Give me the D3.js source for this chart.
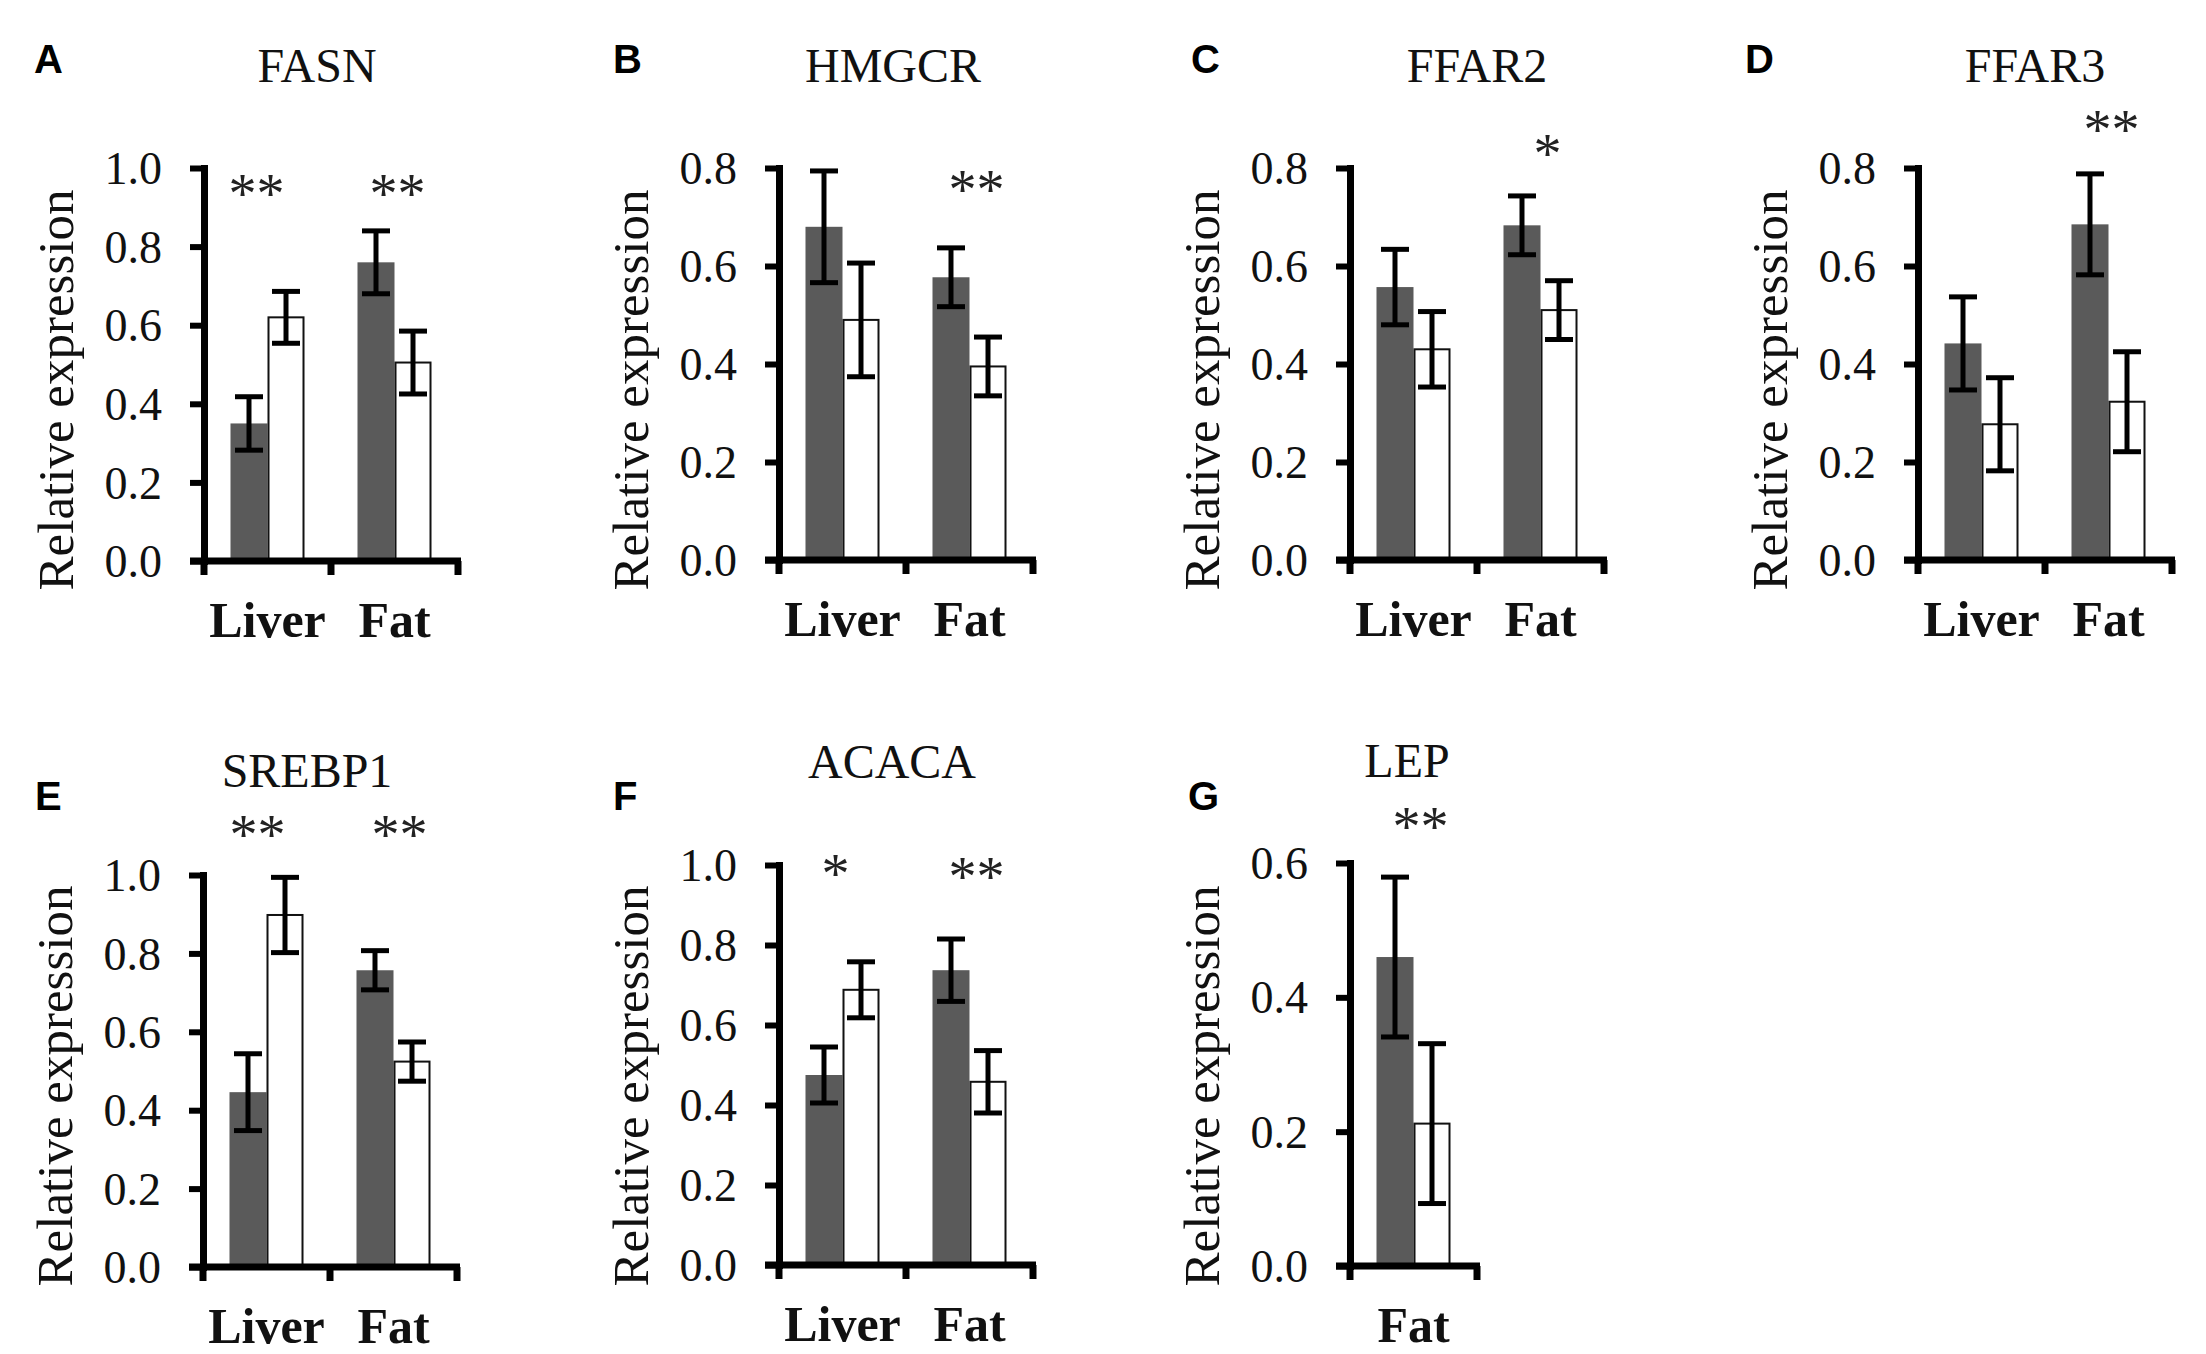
<!DOCTYPE html>
<html>
<head>
<meta charset="utf-8">
<script src="https://cdn.jsdelivr.net/npm/d3@7/dist/d3.min.js"></script>
<style>
  html, body { margin: 0; padding: 0; background: #ffffff; }
  svg { display: block; }
</style>
</head>
<body>
<svg id="chart" width="2206" height="1354"></svg>
<script>
// ---------------- DATA ----------------
const panelLetters = ["A", "B", "C", "D", "E", "F", "G"];
const genes = ["FASN", "HMGCR", "FFAR2", "FFAR3", "SREBP1", "ACACA", "LEP"];
const tissues = [
  ["Liver", "Fat"], ["Liver", "Fat"], ["Liver", "Fat"], ["Liver", "Fat"],
  ["Liver", "Fat"], ["Liver", "Fat"], ["Fat"]
];
const groups = ["dark", "white"];
// mean values per panel, per tissue: [dark, white]
const means = [
  [[0.35, 0.62], [0.76, 0.505]],
  [[0.68, 0.49], [0.577, 0.395]],
  [[0.557, 0.43], [0.683, 0.51]],
  [[0.442, 0.277], [0.685, 0.323]],
  [[0.446, 0.898], [0.757, 0.524]],
  [[0.475, 0.688], [0.737, 0.458]],
  [[0.46, 0.212]]
];
// error per panel, per tissue: [dark, white]
const errors = [
  [[0.068, 0.066], [0.08, 0.08]],
  [[0.114, 0.116], [0.06, 0.06]],
  [[0.077, 0.077], [0.06, 0.06]],
  [[0.095, 0.095], [0.103, 0.102]],
  [[0.098, 0.096], [0.05, 0.05]],
  [[0.07, 0.07], [0.078, 0.078]],
  [[0.119, 0.119]]
];
// y-axis maximum and tick labels
const yMaxes = [1.0, 0.8, 0.8, 0.8, 1.0, 1.0, 0.6];
const tickSets = [
  [0, 0.2, 0.4, 0.6, 0.8, 1.0],
  [0, 0.2, 0.4, 0.6, 0.8],
  [0, 0.2, 0.4, 0.6, 0.8],
  [0, 0.2, 0.4, 0.6, 0.8],
  [0, 0.2, 0.4, 0.6, 0.8, 1.0],
  [0, 0.2, 0.4, 0.6, 0.8, 1.0],
  [0, 0.2, 0.4, 0.6]
];
// significance marks per tissue and the data-level at which they sit
const sigMarks = [
  ["**", "**"], ["", "**"], ["", "*"], ["", "**"],
  ["**", "**"], ["*", "**"], ["**"]
];
const sigLevels = [
  [0.952, 0.952], [0, 0.769], [0, 0.843], [0, 0.892],
  [1.12, 1.12], [0.995, 0.9875], [0.664]
];
const yLabel = "Relative expression";

// ---------------- LAYOUT ----------------
const layout = [
  { axisX: 204,  top: 168, bottom: 561,  titleX: 317,  titleY: 82,  letterX: 34,   letterY: 73,  ylabCY: 390,  sigDx: [-11, 3] },
  { axisX: 779,  top: 168, bottom: 560,  titleX: 893,  titleY: 82,  letterX: 613,  letterY: 73,  ylabCY: 390,  sigDx: [0, 7] },
  { axisX: 1350, top: 168, bottom: 560,  titleX: 1477, titleY: 82,  letterX: 1191, letterY: 73,  ylabCY: 390,  sigDx: [0, 7] },
  { axisX: 1918, top: 168, bottom: 560,  titleX: 2035, titleY: 82,  letterX: 1745, letterY: 73,  ylabCY: 390,  sigDx: [0, 3] },
  { axisX: 203,  top: 875, bottom: 1267, titleX: 307,  titleY: 787, letterX: 35,   letterY: 810, ylabCY: 1086, sigDx: [-9, 6] },
  { axisX: 779,  top: 865, bottom: 1265, titleX: 892,  titleY: 778, letterX: 613,  letterY: 810, ylabCY: 1086, sigDx: [-7, 7] },
  { axisX: 1350, top: 863, bottom: 1266, titleX: 1407, titleY: 777, letterX: 1188, letterY: 810, ylabCY: 1086, sigDx: [7] }
];
const bandW = 127;
const serif = "'Liberation Serif', 'Times New Roman', 'DejaVu Serif', serif";
const sans = "'Liberation Sans', Arial, 'DejaVu Sans', sans-serif";
const darkFill = "#5a5a5a";
const fmt = d3.format(".1f");

const svg = d3.select("#chart");
svg.append("rect").attr("width", 2206).attr("height", 1354).attr("fill", "#fff");

panelLetters.forEach((letter, p) => {
  const L = layout[p];
  const cats = tissues[p];
  const g = svg.append("g");

  const y = d3.scaleLinear().domain([0, yMaxes[p]]).range([L.bottom, L.top]);
  const x = d3.scaleBand().domain(cats).range([L.axisX, L.axisX + bandW * cats.length]);
  const sub = d3.scaleBand().domain(groups).range([0, x.bandwidth()])
    .paddingInner(0).paddingOuter(0.716);

  const rows = cats.map((c, i) => groups.map((s, j) => ({
    cat: c, grp: s, mean: means[p][i][j], err: errors[p][i][j]
  }))).flat();

  // bars
  g.selectAll("rect.bar").data(rows).join("rect")
    .attr("class", "bar")
    .attr("x", d => x(d.cat) + sub(d.grp) + (d.grp === "white" ? 1 : 0))
    .attr("width", d => sub.bandwidth() - (d.grp === "white" ? 2 : 0))
    .attr("y", d => y(d.mean))
    .attr("height", d => y(0) - y(d.mean))
    .attr("fill", d => d.grp === "dark" ? darkFill : "#fff")
    .attr("stroke", d => d.grp === "dark" ? "none" : "#111")
    .attr("stroke-width", 2);

  // error bars
  const capHalf = 14;
  const cx = d => x(d.cat) + sub(d.grp) + sub.bandwidth() / 2;
  const eb = g.selectAll("g.err").data(rows).join("g").attr("class", "err")
    .attr("stroke", "#000").attr("stroke-width", 5).attr("fill", "none");
  eb.append("line")
    .attr("x1", cx).attr("x2", cx)
    .attr("y1", d => y(d.mean + d.err))
    .attr("y2", d => y(d.mean - d.err));
  eb.append("line")
    .attr("x1", d => cx(d) - capHalf).attr("x2", d => cx(d) + capHalf)
    .attr("y1", d => y(d.mean + d.err)).attr("y2", d => y(d.mean + d.err));
  eb.append("line")
    .attr("x1", d => cx(d) - capHalf).attr("x2", d => cx(d) + capHalf)
    .attr("y1", d => y(d.mean - d.err)).attr("y2", d => y(d.mean - d.err));

  // y axis
  const yAxis = g.append("g")
    .attr("transform", `translate(${L.axisX},0)`)
    .call(d3.axisLeft(y).tickValues(tickSets[p]).tickFormat(fmt)
      .tickSize(14).tickSizeOuter(0).tickPadding(28));
  yAxis.select(".domain").attr("stroke", "#000").attr("stroke-width", 7)
    .attr("stroke-linecap", "square");
  yAxis.selectAll(".tick line").attr("stroke", "#000").attr("stroke-width", 6);
  yAxis.selectAll(".tick text")
    .attr("font-family", serif).attr("font-size", 46).attr("fill", "#111")
    .attr("dy", "0.34em");

  // x axis line + boundary ticks
  const xEnd = L.axisX + bandW * cats.length;
  g.append("line")
    .attr("x1", L.axisX - 14).attr("x2", xEnd + 3)
    .attr("y1", y(0)).attr("y2", y(0))
    .attr("stroke", "#000").attr("stroke-width", 7);
  const bounds = [L.axisX].concat(cats.map(c => x(c) + x.bandwidth()));
  g.selectAll("line.xtick").data(bounds).join("line")
    .attr("class", "xtick")
    .attr("x1", d => d).attr("x2", d => d)
    .attr("y1", y(0)).attr("y2", y(0) + 14)
    .attr("stroke", "#000").attr("stroke-width", 7);

  // category labels
  const xAxis = g.append("g")
    .attr("transform", `translate(0,${y(0)})`)
    .call(d3.axisBottom(x).tickSize(0).tickPadding(0));
  xAxis.select(".domain").remove();
  xAxis.selectAll(".tick text")
    .attr("font-family", serif).attr("font-size", 50).attr("font-weight", "bold")
    .attr("fill", "#111").attr("dy", 0).attr("y", 76);

  // y-axis title
  g.append("text")
    .attr("transform", `translate(${L.axisX - 131},${L.ylabCY}) rotate(-90)`)
    .attr("text-anchor", "middle")
    .attr("font-family", serif).attr("font-size", 51).attr("fill", "#111")
    .text(yLabel);

  // gene title
  g.append("text")
    .attr("x", L.titleX).attr("y", L.titleY)
    .attr("text-anchor", "middle")
    .attr("font-family", serif).attr("font-size", 48).attr("fill", "#111")
    .text(genes[p]);

  // panel letter
  g.append("text")
    .attr("x", L.letterX).attr("y", L.letterY)
    .attr("font-family", sans).attr("font-size", 40).attr("font-weight", "bold")
    .attr("fill", "#000")
    .text(letter);

  // significance asterisks
  cats.forEach((c, i) => {
    const m = sigMarks[p][i];
    if (!m) return;
    g.append("text")
      .attr("x", x(c) + x.bandwidth() / 2 + L.sigDx[i])
      .attr("y", y(sigLevels[p][i]) + 26)
      .attr("text-anchor", "middle")
      .attr("font-family", serif).attr("font-size", 56).attr("fill", "#222")
      .text(m);
  });
});
</script>
</body>
</html>
